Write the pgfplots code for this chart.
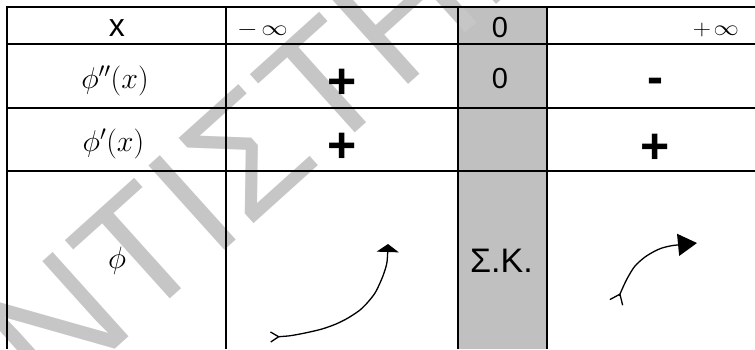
\RequirePackage{fix-cm}
\documentclass[border=0pt]{standalone}
\usepackage{pgfplots}
\pgfplotsset{compat=1.18}
\usepackage{fontspec}
\setmainfont{Liberation Sans}
\usetikzlibrary{arrows.meta}
\usepackage{xcolor}
\definecolor{cellgray}{HTML}{C0C0C0}
\definecolor{wmgray}{HTML}{C6C6C6}

% font helpers (1pt = 1px of the reference)
\newcommand{\fs}[1]{\fontsize{#1}{#1}\selectfont}

\begin{document}
\begin{tikzpicture}
\useasboundingbox (0,0) rectangle (755pt,349pt);
\clip (0,0) rectangle (755pt,349pt);
\begin{axis}[
    at={(0,0)}, anchor=south west,
    scale only axis,
    width=755pt, height=349pt,
    xmin=0, xmax=755, ymin=0, ymax=349,
    y dir=reverse,
    hide axis,
    clip=false,
]
% shaded column x = 0
\addplot[draw=none, fill=cellgray] coordinates {(458,7) (547,7) (547,349) (458,349)} -- cycle;

% watermark
\node[wmgray, rotate=42, anchor=base west, inner sep=0pt]
  at (axis cs:-225,655) {\fs{165}ΦΡΟΝΤΙΣΤΗΡΙΑ};

% table rules
\addplot[black, line width=2pt] coordinates {(7,7) (755,7)};
\addplot[black, line width=2pt] coordinates {(7,44) (755,44)};
\addplot[black, line width=2pt] coordinates {(7,108) (755,108)};
\addplot[black, line width=2pt] coordinates {(7,171) (755,171)};
\addplot[black, line width=2pt] coordinates {(7,6) (7,349)};
\addplot[black, line width=2pt] coordinates {(226,6) (226,349)};
\addplot[black, line width=2pt] coordinates {(458,6) (458,349)};
\addplot[black, line width=2pt] coordinates {(547,6) (547,349)};

% header row
\node[anchor=base, inner sep=0pt] at (axis cs:117,36) {\fs{32}x};
\node[anchor=base west, inner sep=0pt] at (axis cs:237,35)
  {\fs{22}\scalebox{1.2}[1]{$-$\hspace{3pt}$\infty$}};
\node[anchor=base, inner sep=0pt] at (axis cs:500,37) {\fs{29}0};
\node[anchor=base east, inner sep=0pt] at (axis cs:739,35.5)
  {\fs{22}\scalebox{1.15}[1]{$+$\hspace{2pt}$\infty$}};

% phi'' row
\node[anchor=base, inner sep=0pt] at (axis cs:115,88) {\fs{30}$\phi''(x)$};
\node[anchor=base, inner sep=0pt] at (axis cs:342,98) {\fs{50}\bfseries +};
\node[anchor=base, inner sep=0pt] at (axis cs:500,88) {\fs{29}0};
\node[anchor=base, inner sep=0pt] at (axis cs:655,93) {\fs{48}\bfseries -};

% phi' row
\node[anchor=base, inner sep=0pt] at (axis cs:113.5,151) {\fs{30}$\phi'(x)$};
\node[anchor=base, inner sep=0pt] at (axis cs:342,162) {\fs{50}\bfseries +};
\node[anchor=base, inner sep=0pt] at (axis cs:655,163) {\fs{50}\bfseries +};

% phi row
\node[anchor=base, inner sep=0pt] at (axis cs:117,268) {\fs{31}$\phi$};
\node[anchor=base, inner sep=0pt] at (axis cs:501.5,272) {\fs{34}Σ.Κ.};

% convex, increasing
\addplot[black, line width=1.3pt, smooth,
  {Straight Barb[reversed, length=8pt, width=10pt]}-{Triangle[length=8pt, width=22pt]}]
  coordinates {(270,337) (288,336) (305,333) (322,329) (336,324) (348,318)
               (360,310) (368,302) (375,293) (380,283) (384,273) (387,262) (388,244)};
% concave, increasing
\addplot[black, line width=1.3pt, smooth,
  {Straight Barb[reversed, length=9pt, width=14pt]}-{Triangle[length=19pt, width=22pt]}]
  coordinates {(616,303) (620,294) (624,285) (628,277) (635,266) (645,257)
               (655,251) (662,248) (670,246) (677,245) (697,243)};
\end{axis}
\end{tikzpicture}
\end{document}
